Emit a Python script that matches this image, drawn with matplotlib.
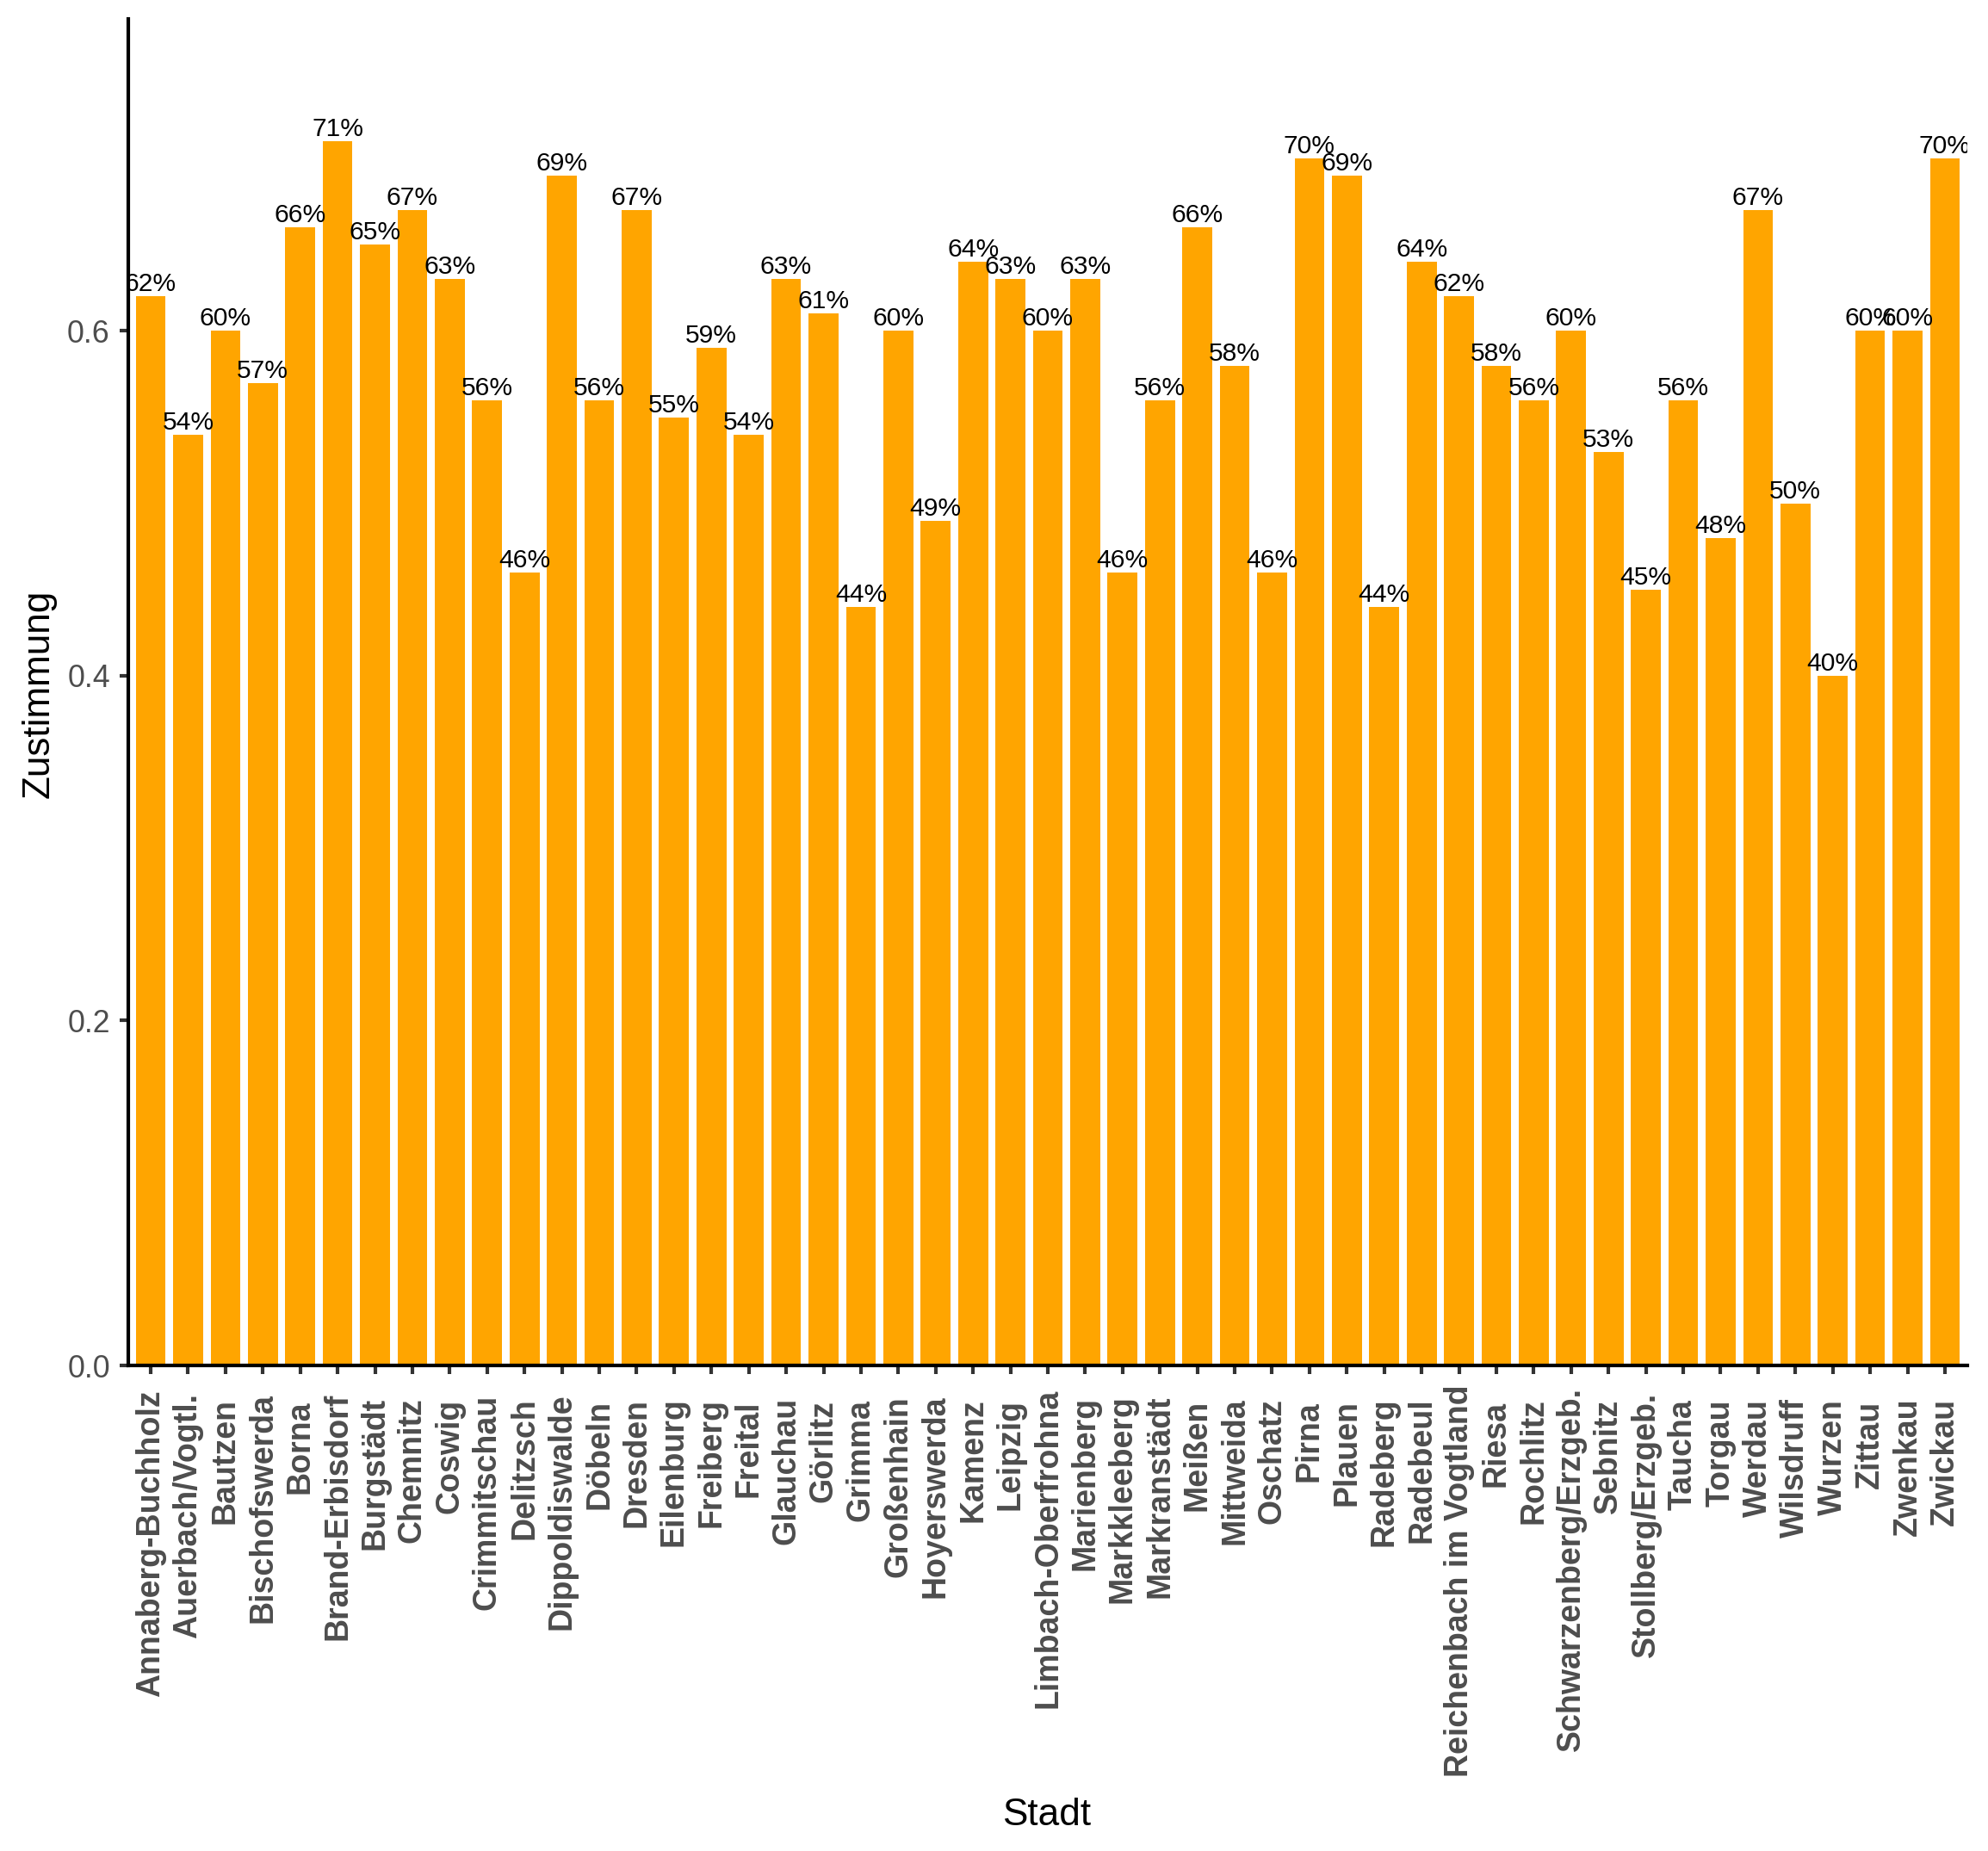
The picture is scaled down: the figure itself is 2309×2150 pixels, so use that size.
import matplotlib
matplotlib.use("Agg")
import matplotlib.pyplot as plt
import matplotlib.transforms as mtransforms

plt.rcParams['font.family'] = ['Liberation Sans', 'DejaVu Sans']

staedte = ['Annaberg-Buchholz', 'Auerbach/Vogtl.', 'Bautzen', 'Bischofswerda', 'Borna',
           'Brand-Erbisdorf', 'Burgstädt', 'Chemnitz', 'Coswig', 'Crimmitschau', 'Delitzsch',
           'Dippoldiswalde', 'Döbeln', 'Dresden', 'Eilenburg', 'Freiberg', 'Freital',
           'Glauchau', 'Görlitz', 'Grimma', 'Großenhain', 'Hoyerswerda', 'Kamenz', 'Leipzig',
           'Limbach-Oberfrohna', 'Marienberg', 'Markkleeberg', 'Markranstädt', 'Meißen',
           'Mittweida', 'Oschatz', 'Pirna', 'Plauen', 'Radeberg', 'Radebeul',
           'Reichenbach im Vogtland', 'Riesa', 'Rochlitz', 'Schwarzenberg/Erzgeb.', 'Sebnitz',
           'Stollberg/Erzgeb.', 'Taucha', 'Torgau', 'Werdau', 'Wilsdruff', 'Wurzen', 'Zittau',
           'Zwenkau', 'Zwickau']
zustimmung = [0.62, 0.54, 0.60, 0.57, 0.66, 0.71, 0.65, 0.67, 0.63, 0.56, 0.46,
              0.69, 0.56, 0.67, 0.55, 0.59, 0.54, 0.63, 0.61, 0.44, 0.60, 0.49,
              0.64, 0.63, 0.60, 0.63, 0.46, 0.56, 0.66, 0.58, 0.46, 0.70, 0.69,
              0.44, 0.64, 0.62, 0.58, 0.56, 0.60, 0.53, 0.45, 0.56, 0.48, 0.67,
              0.50, 0.40, 0.60, 0.60, 0.70]
y_ticks = [0.0, 0.2, 0.4, 0.6]

W, H, DPI = 2309, 2150, 300
fig = plt.figure(figsize=(W / DPI, H / DPI), dpi=DPI)
ax_left, ax_right, ax_top, ax_bottom = 149, 2285, 22, 1586
ax = fig.add_axes([ax_left / W, 1 - ax_bottom / H, (ax_right - ax_left) / W, (ax_bottom - ax_top) / H])

x = list(range(len(staedte)))
ax.bar(x, zustimmung, width=0.8, color='#FFA500', zorder=1)

for xi, v in zip(x, zustimmung):
    ax.text(xi, v, f'{round(v * 100)}%', ha='center', va='bottom',
            fontsize=7.2, color='black', clip_on=True)

ax.set_xlim(-0.6, len(staedte) - 0.4)
ax.set_ylim(0, 0.781)

for s in ['top', 'right']:
    ax.spines[s].set_visible(False)
for s in ['left', 'bottom']:
    ax.spines[s].set_linewidth(1.0)
    ax.spines[s].set_color('black')

ax.set_yticks(y_ticks)
ax.set_yticklabels([f'{t:.1f}' for t in y_ticks])
ax.tick_params(axis='y', length=2.5, width=1.0, color='#333333', labelsize=8.6,
               labelcolor='#4D4D4D', pad=2.6)
ax.set_xticks(x)
ax.set_xticklabels([''] * len(x))
ax.tick_params(axis='x', length=2.5, width=1.0, color='#333333')

# x tick labels: rotated, bold, hjust = 0.95 like the original
blend = mtransforms.blended_transform_factory(ax.transData, ax.transAxes)
labels = []
for xi, name in zip(x, staedte):
    t = ax.text(xi, 0, name, rotation=90, ha='center', va='top', fontsize=9.0,
                fontweight='bold', color='#4D4D4D', transform=blend, clip_on=False)
    labels.append(t)
fig.canvas.draw()
renderer = fig.canvas.get_renderer()
lengths = [t.get_window_extent(renderer).height for t in labels]
gap = 23
anchor = gap + 0.05 * max(lengths)
for t, L in zip(labels, lengths):
    off = anchor - 0.05 * L
    t.set_transform(mtransforms.offset_copy(blend, fig=fig, x=0, y=-off, units='dots'))

fig.text(45 / W, 1 - 806 / H, 'Zustimmung', rotation=90, ha='center', va='center',
         fontsize=10.6, color='black')
fig.text(1216 / W, 1 - 2120 / H, 'Stadt', ha='center', va='baseline',
         fontsize=10.6, color='black')

fig.savefig('out.png', dpi=DPI)
